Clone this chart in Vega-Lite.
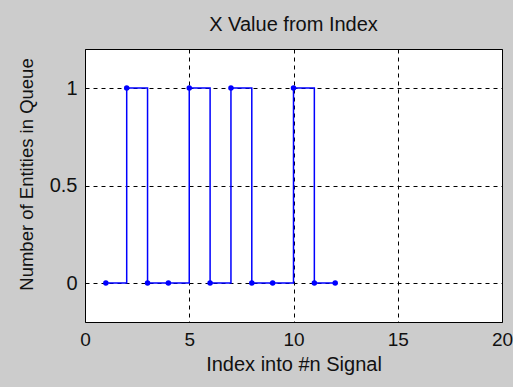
{
  "$schema": "https://vega.github.io/schema/vega-lite/v6.json",
  "width": 417,
  "height": 273,
  "autosize": {"type": "none"},
  "padding": {"left": 85, "top": 49, "right": 11, "bottom": 65},
  "background": "#cccccc",
  "title": {"text": "X Value from Index", "font": "Liberation Sans", "fontSize": 20, "fontWeight": "normal", "color": "#111111", "offset": 14},
  "config": {
    "view": {"fill": "white", "stroke": "black", "strokeWidth": 1},
    "axis": {
      "labelFont": "Liberation Sans", "labelFontSize": 19, "labelColor": "#111111",
      "titleFont": "Liberation Sans", "titleFontSize": 20, "titleFontWeight": "normal", "titleColor": "#111111",
      "grid": true, "gridColor": "black", "gridDash": [4, 4], "gridOpacity": 1, "gridWidth": 1,
      "ticks": false, "domain": false
    }
  },
  "data": {"values": [
    {"index": 1, "value": 0},
    {"index": 2, "value": 1},
    {"index": 3, "value": 0},
    {"index": 4, "value": 0},
    {"index": 5, "value": 1},
    {"index": 6, "value": 0},
    {"index": 7, "value": 1},
    {"index": 8, "value": 0},
    {"index": 9, "value": 0},
    {"index": 10, "value": 1},
    {"index": 11, "value": 0},
    {"index": 12, "value": 0}
  ]},
  "encoding": {
    "x": {"field": "index", "type": "quantitative",
      "scale": {"domain": [0, 20], "nice": false, "zero": false},
      "axis": {"values": [0, 5, 10, 15, 20], "title": "Index into #n  Signal", "labelPadding": 8, "titlePadding": 5, "labelFlush": false}},
    "y": {"field": "value", "type": "quantitative",
      "scale": {"domain": [-0.2, 1.2], "nice": false, "zero": false},
      "axis": {"values": [0, 0.5, 1], "format": ".1~f", "title": "Number of Entities in Queue", "titleFontSize": 18.5, "titleY": 125, "labelFontSize": 20, "labelPadding": 8, "titlePadding": 13}}
  },
  "layer": [
    {"mark": {"type": "line", "interpolate": "step-after", "color": "#0000ff", "strokeWidth": 1.5}},
    {"mark": {"type": "point", "filled": true, "color": "#0000ff", "opacity": 1, "size": 30}}
  ]
}
